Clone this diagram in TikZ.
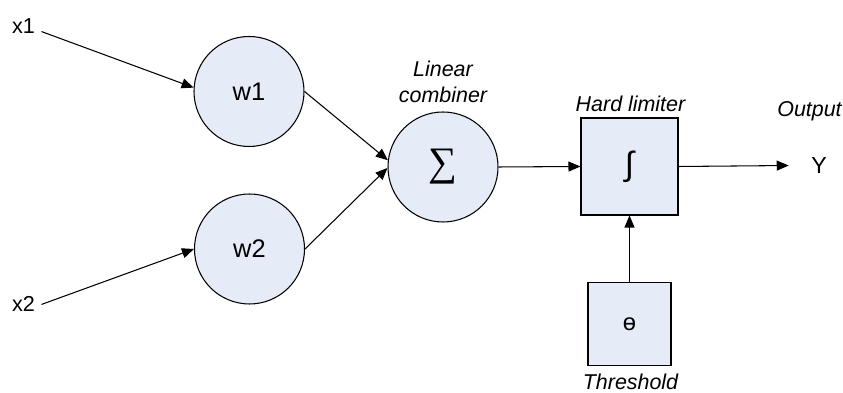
\documentclass[tikz,border=0pt]{standalone}
\usepackage{fontspec}
\setmainfont{Liberation Sans}
\newfontfamily\serifsym{Liberation Serif}
\usetikzlibrary{arrows.meta, positioning}
\definecolor{cellfill}{RGB}{230,236,247}
\tikzset{
  neuron/.style={circle, draw, fill=cellfill, minimum size=2.2cm, inner sep=0pt, font=\fontsize{14.5}{16}\selectfont},
  limbox/.style={rectangle, draw, fill=cellfill, minimum size=1.94cm, inner sep=0pt},
  tag/.style={inner sep=0pt, align=center, font=\fontsize{12.2}{14.8}\selectfont\itshape},
  signal/.style={inner sep=0.12cm, font=\fontsize{12.3}{14}\selectfont},
  arrow/.style={-{Triangle[length=2.4mm, width=2mm]}, line width=0.6pt},
}

\begin{document}
\begin{tikzpicture}[line width=0.6pt]
  \useasboundingbox (0,0) rectangle (16.86,7.86);

  % Inputs
  \node[signal, anchor=base] (x1) at (0.47,7.19) {x1};
  \node[signal, anchor=base] (x2) at (0.47,1.62) {x2};

  % Weights
  \node[neuron] (w1) at (4.98,6.03) {w1};
  \node[neuron] (w2) at (4.99,2.88) {w2};

  % Linear combiner
  \node[neuron, font=\serifsym\fontsize{23}{24}\selectfont] (sum) at (8.86,4.52) {∑};
  \node[tag, anchor=south] (lincomb) at (8.86,5.79) {Linear\\combiner};

  % Hard limiter
  \node[limbox, font=\fontsize{19}{20}\selectfont] (lim) at (12.59,4.53) {∫};
  \node[tag, anchor=base] (limtag) at (12.61,5.63) {Hard limiter};

  % Threshold
  \node[limbox, minimum size=1.66cm, font=\fontsize{13.5}{15}\selectfont] (theta) at (12.59,1.38) {ɵ};
  \node[tag, anchor=base] (thtag) at (12.61,0.06) {Threshold};

  % Output
  \node[signal, inner xsep=0.44cm, font=\fontsize{13.2}{14}\selectfont, anchor=base] (y) at (16.38,4.39) {Y};
  \node[tag, anchor=base] (outtag) at (16.19,5.53) {Output};

  % Connections
  \draw[arrow] (x1.-17) -- (w1.176);
  \draw[arrow] (x2.east) -- (w2.west);
  \draw[arrow] (w1.east) -- (sum.173);
  \draw[arrow] (w2.east) -- (sum.181);
  \draw[arrow] (sum.east) -- (lim.west);
  \draw[arrow] (lim.east) -- (y.west);
  \draw[arrow] (theta) -- (lim);
\end{tikzpicture}
\end{document}
